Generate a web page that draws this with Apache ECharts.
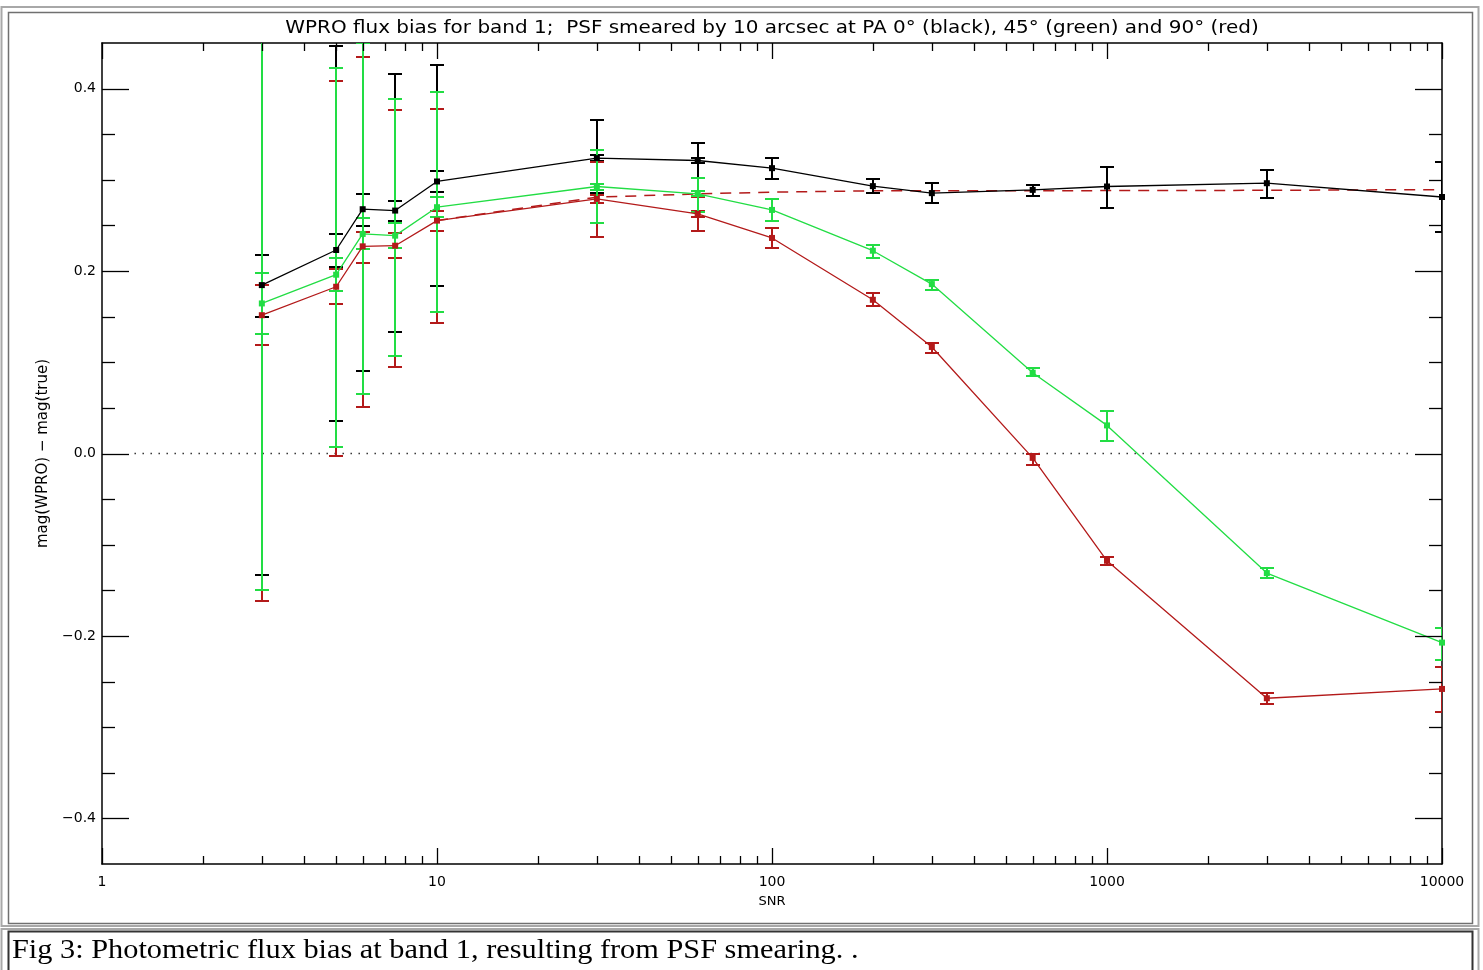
<!DOCTYPE html>
<html><head><meta charset="utf-8">
<script src="https://cdn.jsdelivr.net/npm/echarts@6/dist/echarts.min.js"></script>
<style>html,body{margin:0;padding:0;background:#fff}#c{width:1483px;height:970px}</style>
</head><body><div id="c"></div>
<script>
// ---------- texts ----------
const titleText = 'WPRO flux bias for band 1;  PSF smeared by 10 arcsec at PA 0\u00b0 (black), 45\u00b0 (green) and 90\u00b0 (red)';
const xAxisTitle = 'SNR';
const yAxisTitle = 'mag(WPRO) \u2212 mag(true)';
const captionText = 'Fig 3: Photometric flux bias at band 1, resulting from PSF smearing. .';

// ---------- data ----------
const snr = [3, 5, 6, 7.5, 10, 30, 60, 100, 200, 300, 600, 1000, 3000, 10000];

const black      = [0.1846, 0.2231, 0.2678, 0.2663, 0.2982, 0.3238, 0.3212, 0.3128, 0.2931, 0.2854, 0.2890, 0.2927, 0.2963, 0.2812];
const blackErrLo = [-0.1334, 0.0352, 0.0905, 0.1337, 0.1839, 0.2860, 0.3020, 0.3011, 0.2857, 0.2744, 0.2828, 0.2692, 0.2799, 0.2430];
const blackErrHi = [0.5200, 0.4470, 0.4800, 0.4165, 0.4264, 0.3660, 0.3407, 0.3242, 0.3004, 0.2960, 0.2945, 0.3139, 0.3108, 0.3200];
const blackInLo  = [0.1500, 0.2040, 0.2490, 0.2553, 0.2872, 0.3205, 0.3180, null, null, null, null, null, null, null];
const blackInHi  = [0.2176, 0.2407, 0.2846, 0.2773, 0.3092, 0.3275, 0.3240, null, null, null, null, null, null, null];

const green      = [0.1645, 0.1960, 0.2407, 0.2388, 0.2700, 0.2927, 0.2846, 0.2670, 0.2223, 0.1857, 0.0886, 0.0308, -0.1311, -0.2073];
const greenErrLo = [-0.1500, 0.0070, 0.0656, 0.1070, 0.1553, 0.2524, 0.2652, 0.2549, 0.2146, 0.1795, 0.0849, 0.0135, -0.1368, -0.2268];
const greenErrHi = [0.5000, 0.4227, 0.4505, 0.3890, 0.3963, 0.3322, 0.3022, 0.2791, 0.2286, 0.1905, 0.0934, 0.0465, -0.1258, -0.1910];
const greenInLo  = [0.1308, 0.1777, 0.2240, 0.2252, 0.2590, 0.2894, 0.2820, null, null, null, null, null, null, null];
const greenInHi  = [0.1975, 0.2140, 0.2580, 0.2524, 0.2810, 0.2956, 0.2880, null, null, null, null, null, null, null];

const red        = [0.1516, 0.1828, 0.2271, 0.2278, 0.2553, 0.2791, 0.2626, 0.2363, 0.1685, 0.1168, -0.0048, -0.1176, -0.2683, -0.2581];
const redErrLo   = [-0.1620, -0.0030, 0.0505, 0.0953, 0.1436, 0.2378, 0.2443, 0.2249, 0.1612, 0.1106, -0.0121, -0.1220, -0.2744, -0.2834];
const redErrHi   = [0.4900, 0.4080, 0.4348, 0.3762, 0.3777, 0.3194, 0.2816, 0.2473, 0.1755, 0.1216, 0.0000, -0.1130, -0.2630, -0.2337];
const redInLo    = [0.1187, 0.1637, 0.2088, 0.2140, 0.2436, 0.2747, 0.2596, null, null, null, null, null, null, null];
const redInHi    = [0.1846, 0.2020, 0.2425, 0.2415, 0.2656, 0.2835, 0.2656, null, null, null, null, null, null, null];

// dashed reference curve (red, dashed)
const dashSnr = [10, 30, 60, 100, 200, 300, 600, 1000, 3000, 10000];
const dashVal = [0.2553, 0.2810, 0.2846, 0.2865, 0.2880, 0.2880, 0.2880, 0.2882, 0.2885, 0.2893];

// dotted zero line extent
const zeroLineSnr = [1.25, 8000];

// ticks
const xMajorTicks = [1, 10, 100, 1000, 10000];
const xMinorTicks = [2,3,4,5,6,7,8,9, 20,30,40,50,60,70,80,90, 200,300,400,500,600,700,800,900, 2000,3000,4000,5000,6000,7000,8000,9000];
const yMajorTicks = [-0.4, -0.2, 0, 0.2, 0.4];
const yMinorTicks = [-0.35, -0.3, -0.25, -0.15, -0.1, -0.05, 0.05, 0.1, 0.15, 0.25, 0.3, 0.35];

// ---------- styles ----------
const C_BLACK = '#000000', C_GREEN = '#22dd44', C_RED = '#b31a1a';
const FONT = 'DejaVu Sans';

function errData(lo, hi, inLo, inHi) {
  const out = [];
  snr.forEach((x, i) => {
    out.push([x, lo[i], hi[i], 7]);
    if (inLo[i] != null) out.push([x, inLo[i], inHi[i], 7]);
  });
  return out;
}
function errRender(color) {
  return function (params, api) {
    const x = api.value(0);
    const a = api.coord([x, api.value(1)]);
    const b = api.coord([x, api.value(2)]);
    const h = api.value(3);
    const px = Math.round(a[0]);
    const st = { stroke: color, lineWidth: 2 };
    const ya = Math.round(a[1]), yb = Math.round(b[1]);
    return { type: 'group', children: [
      { type: 'line', shape: { x1: px, y1: ya, x2: px, y2: yb }, style: st },
      { type: 'line', shape: { x1: px - h, y1: ya, x2: px + h, y2: ya }, style: st },
      { type: 'line', shape: { x1: px - h, y1: yb, x2: px + h, y2: yb }, style: st }
    ]};
  };
}

const tickData = []
  .concat(xMajorTicks.map(v => [v, 0, 0, 1]))
  .concat(xMinorTicks.map(v => [v, 0, 0, 0]))
  .concat(yMajorTicks.map(v => [1, v, 1, 1]))
  .concat(yMinorTicks.map(v => [1, v, 1, 0]));

function tickRender(params, api) {
  const cs = params.coordSys;
  const isY = api.value(2) === 1;
  const major = api.value(3) === 1;
  const st = { stroke: '#000', lineWidth: 1.3 };
  if (!isY) {
    const p = api.coord([api.value(0), 0]);
    const px = Math.round(p[0]) + 0.5;
    const len = major ? 16 : 8;
    const bot = cs.y + cs.height, top = cs.y;
    return { type: 'group', children: [
      { type: 'line', shape: { x1: px, y1: bot, x2: px, y2: bot - len }, style: st },
      { type: 'line', shape: { x1: px, y1: top, x2: px, y2: top + len }, style: st }
    ]};
  } else {
    const p = api.coord([1, api.value(1)]);
    const py = Math.round(p[1]) + 0.5;
    const len = major ? 27 : 13;
    const l = cs.x, r = cs.x + cs.width;
    return { type: 'group', children: [
      { type: 'line', shape: { x1: l, y1: py, x2: l + len, y2: py }, style: st },
      { type: 'line', shape: { x1: r, y1: py, x2: r - len, y2: py }, style: st }
    ]};
  }
}

function pts(xs, ys) { return xs.map((x, i) => [x, ys[i]]); }

const chart = echarts.init(document.getElementById('c'), null, { renderer: 'canvas' });

const axisLineStyle = { show: true, onZero: false, lineStyle: { color: '#000', width: 1.5 } };

chart.setOption({
  animation: false,
  backgroundColor: '#ffffff',
  grid: { left: 102, right: 41, top: 43, bottom: 106, containLabel: false },
  xAxis: [
    {
      type: 'log', logBase: 10, min: 1, max: 10000, position: 'bottom',
      axisLine: axisLineStyle, axisTick: { show: false }, splitLine: { show: false },
      minorTick: { show: false }, minorSplitLine: { show: false },
      axisLabel: { color: '#000', fontFamily: FONT, fontSize: 14, margin: 11,
        formatter: v => String(Math.round(v)) },
      name: xAxisTitle, nameLocation: 'middle', nameGap: 31,
      nameTextStyle: { color: '#000', fontFamily: FONT, fontSize: 13 }
    },
    {
      type: 'log', logBase: 10, min: 1, max: 10000, position: 'top',
      axisLine: axisLineStyle, axisTick: { show: false }, splitLine: { show: false },
      axisLabel: { show: false }
    }
  ],
  yAxis: [
    {
      type: 'value', min: -0.45, max: 0.45, interval: 0.05, position: 'left',
      axisLine: axisLineStyle, axisTick: { show: false }, splitLine: { show: false },
      axisLabel: { interval: 0, color: '#000', fontFamily: FONT, fontSize: 14, margin: 6,
        formatter: v => {
          const k = Math.round(v * 100);
          if (k % 20 !== 0) return '';
          const s = (Math.abs(k) / 100).toFixed(1);
          return k < 0 ? '\u2212' + s : s;
        } },
      name: yAxisTitle, nameLocation: 'middle', nameGap: 49, nameRotate: 90,
      nameTextStyle: { color: '#000', fontFamily: FONT, fontSize: 15 }
    },
    {
      type: 'value', min: -0.45, max: 0.45, interval: 0.05, position: 'right',
      axisLine: axisLineStyle, axisTick: { show: false }, splitLine: { show: false },
      axisLabel: { show: false }
    }
  ],
  graphic: [
    { type: 'rect', shape: { x: 1.5, y: 7, width: 1477, height: 919 }, style: { fill: 'none', stroke: '#a8a8a8', lineWidth: 2 }, silent: true },
    { type: 'rect', shape: { x: 8.5, y: 12.5, width: 1464, height: 911 }, style: { fill: 'none', stroke: '#707070', lineWidth: 1.5 }, silent: true },
    { type: 'rect', shape: { x: 1.5, y: 929, width: 1477, height: 60 }, style: { fill: 'none', stroke: '#a8a8a8', lineWidth: 2 }, silent: true },
    { type: 'rect', shape: { x: 8.5, y: 931.5, width: 1464, height: 60 }, style: { fill: 'none', stroke: '#333333', lineWidth: 2 }, silent: true },
    { type: 'text', x: 772, y: 29, scaleX: 1.175, silent: true,
      style: { text: titleText, fill: '#000', font: '17px "DejaVu Sans"', align: 'center', verticalAlign: 'middle' } },
    { type: 'text', x: 12, y: 951, scaleX: 1.083, silent: true,
      style: { text: captionText, fill: '#000', font: '28px "Liberation Serif"', align: 'left', verticalAlign: 'middle' } }
  ],
  series: [
    { type: 'custom', name: 'ticks', renderItem: tickRender, data: tickData, clip: false, silent: true, z: 10,
      encode: { x: 0, y: 1 } },
    { type: 'line', name: 'zero', data: pts(zeroLineSnr, [0, 0]), symbol: 'none', silent: true,
      lineStyle: { color: '#333', width: 1.3, type: [1.5, 6.5] }, z: 1 },
    { type: 'line', name: 'PA 90 dashed', data: pts(dashSnr, dashVal), symbol: 'none', silent: true,
      lineStyle: { color: C_RED, width: 1.5, type: [11, 8] }, z: 2 },
    { type: 'custom', name: 'black err', renderItem: errRender(C_BLACK), data: errData(blackErrLo, blackErrHi, blackInLo, blackInHi), clip: true, silent: true, z: 3, encode: { x: 0, y: [1, 2] } },
    { type: 'custom', name: 'red err', renderItem: errRender(C_RED), data: errData(redErrLo, redErrHi, redInLo, redInHi), clip: true, silent: true, z: 4, encode: { x: 0, y: [1, 2] } },
    { type: 'custom', name: 'green err', renderItem: errRender(C_GREEN), data: errData(greenErrLo, greenErrHi, greenInLo, greenInHi), clip: true, silent: true, z: 5, encode: { x: 0, y: [1, 2] } },
    { type: 'line', name: 'PA 0 (black)', data: pts(snr, black), symbol: 'rect', symbolSize: 6, silent: true,
      itemStyle: { color: C_BLACK }, lineStyle: { color: C_BLACK, width: 1.3 }, z: 6 },
    { type: 'line', name: 'PA 90 (red)', data: pts(snr, red), symbol: 'rect', symbolSize: 6, silent: true,
      itemStyle: { color: C_RED }, lineStyle: { color: C_RED, width: 1.3 }, z: 6 },
    { type: 'line', name: 'PA 45 (green)', data: pts(snr, green), symbol: 'rect', symbolSize: 6, silent: true,
      itemStyle: { color: C_GREEN }, lineStyle: { color: C_GREEN, width: 1.3 }, z: 7 }
  ]
});
</script>
</body></html>
